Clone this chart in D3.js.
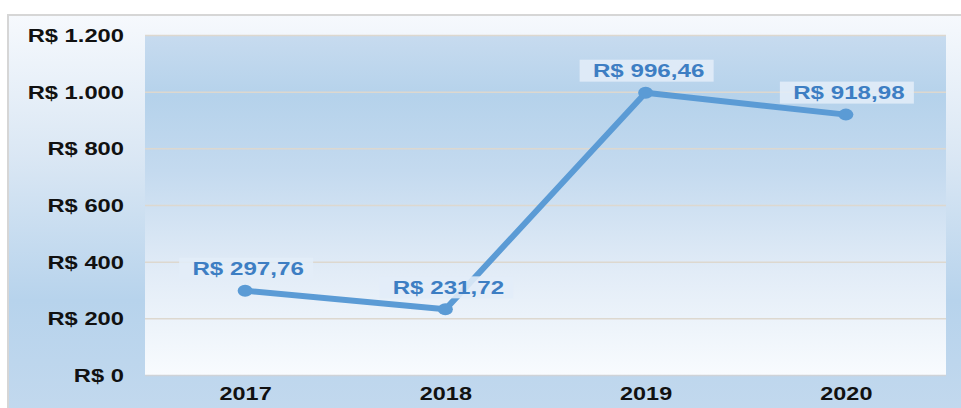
<!DOCTYPE html>
<html><head><meta charset="utf-8">
<script src="https://cdn.jsdelivr.net/npm/d3@7/dist/d3.min.js"></script>
<style>html,body{margin:0;padding:0;background:#fff;}svg{display:block;}</style>
</head><body>
<svg id="c" width="961" height="408"></svg>
<script>
const years = ["2017", "2018", "2019", "2020"];
const values = [297.76, 231.72, 996.46, 918.98];
const yTicks = [0, 200, 400, 600, 800, 1000, 1200];

const svg = d3.select("#c");
const W = 961, H = 408;
const m = {left: 145, right: 15, top: 35, bottom: 33};
const pw = W - m.left - m.right, ph = H - m.top - m.bottom;

const locale = d3.formatLocale({decimal: ",", thousands: ".", grouping: [3], currency: ["R$ ", ""]});
const fTick = locale.format("$,.0f");
const fVal = locale.format("$,.2f");

const defs = svg.append("defs");
const og = defs.append("linearGradient").attr("id", "og").attr("x1", 0).attr("y1", 0).attr("x2", 0).attr("y2", 1);
[[0, "#f6f9fd"], [0.35, "#dae7f4"], [0.7, "#b7d3ec"], [1, "#c3d9ee"]].forEach(s => og.append("stop").attr("offset", s[0]).attr("stop-color", s[1]));
const pg = defs.append("linearGradient").attr("id", "pg").attr("x1", 0).attr("y1", 0).attr("x2", 0).attr("y2", 1);
[[0, "#c7dbef"], [0.18, "#b5d2eb"], [0.4, "#c4daef"], [0.7, "#e2ecf7"], [1, "#f8fbfe"]].forEach(s => pg.append("stop").attr("offset", s[0]).attr("stop-color", s[1]));

svg.append("rect").attr("x", 8).attr("y", 15).attr("width", W).attr("height", H)
  .attr("fill", "url(#og)").attr("stroke", "#d6d6d6").attr("stroke-width", 2);

const g = svg.append("g").attr("transform", `translate(${m.left},${m.top})`);
g.append("rect").attr("width", pw).attr("height", ph).attr("fill", "url(#pg)");

const x = d3.scalePoint().domain(years).range([0, pw]).padding(0.5);
const y = d3.scaleLinear().domain([0, 1200]).range([ph, 0]);

// grid
const grid = g.append("g").call(d3.axisLeft(y).tickValues(yTicks).tickSize(-pw).tickFormat(""));
grid.select(".domain").remove();
grid.selectAll("line").attr("stroke", "#ddd8cf").attr("stroke-width", 1.5);
grid.selectAll(".tick").filter(d => d === 0).select("line").attr("stroke", "#cfd3d8");

// y axis labels
const ya = g.append("g").call(d3.axisLeft(y).tickValues(yTicks).tickSize(0).tickFormat(fTick));
ya.select(".domain").remove();
ya.selectAll("text").attr("x", null).attr("dy", null)
  .attr("transform", "translate(-21,6.5) scale(1.32,1)")
  .attr("text-anchor", "end")
  .style("font-family", "'Liberation Sans', Arial, sans-serif").style("font-weight", "bold")
  .style("font-size", "18px").attr("fill", "#111");

// x axis labels
const xa = g.append("g").attr("transform", `translate(0,${ph})`).call(d3.axisBottom(x).tickSize(0));
xa.select(".domain").remove();
xa.selectAll("text").attr("y", null).attr("dy", null)
  .attr("transform", "translate(0,25) scale(1.3,1)")
  .attr("text-anchor", "middle")
  .style("font-family", "'Liberation Sans', Arial, sans-serif").style("font-weight", "bold")
  .style("font-size", "18px").attr("fill", "#111");

// line
const data = years.map((d, i) => ({year: d, v: values[i]}));
g.append("path").datum(data)
  .attr("d", d3.line().x(d => x(d.year)).y(d => y(d.v)))
  .attr("fill", "none").attr("stroke", "#5b9bd5").attr("stroke-width", 6).attr("stroke-linejoin", "round");
g.selectAll(".pt").data(data).join("ellipse")
  .attr("cx", d => x(d.year)).attr("cy", d => y(d.v)).attr("rx", 7.5).attr("ry", 6)
  .attr("fill", "#5b9bd5");

// labels
const lab = g.selectAll(".lab").data(data).join("g")
  .attr("transform", d => `translate(${x(d.year) + 1},${y(d.v) - 22})`);
lab.append("rect").attr("x", -67).attr("y", -11).attr("width", 134).attr("height", 22)
  .attr("fill", "#e3edf8").attr("fill-opacity", 0.88);
lab.append("text").text(d => fVal(d.v))
  .attr("transform", "translate(2,6.5) scale(1.38,1)")
  .attr("text-anchor", "middle")
  .style("font-family", "'Liberation Sans', Arial, sans-serif").style("font-weight", "bold")
  .style("font-size", "17.5px").attr("fill", "#3d7ec3");
</script>
</body></html>
